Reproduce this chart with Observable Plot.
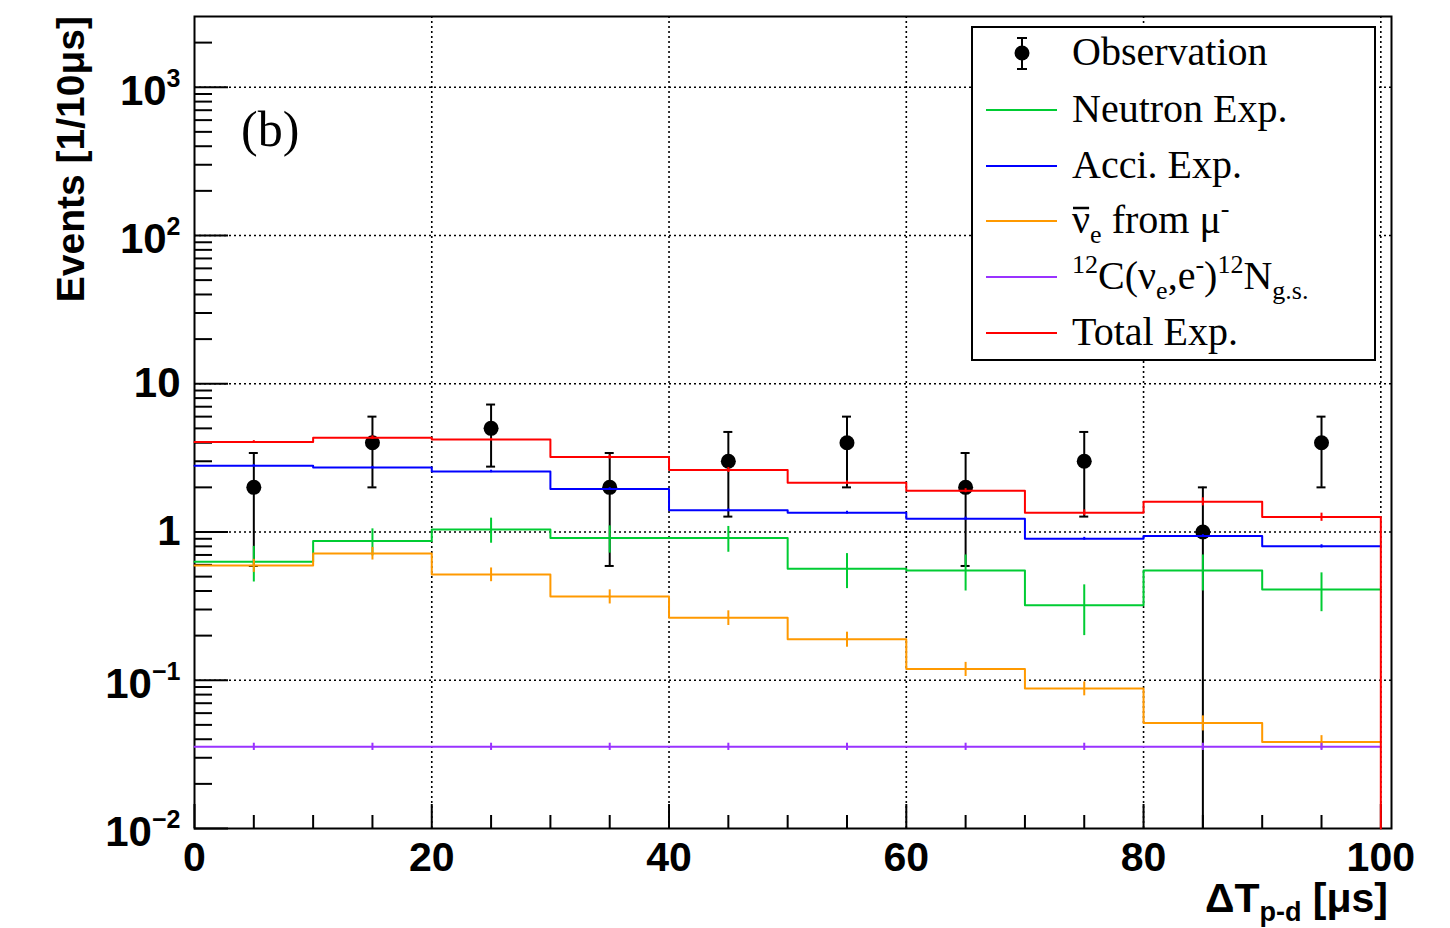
<!DOCTYPE html>
<html>
<head>
<meta charset="utf-8">
<script src="https://cdn.jsdelivr.net/npm/d3@7"></script>
<script src="https://cdn.jsdelivr.net/npm/@observablehq/plot@0.6"></script>
<style>html,body{margin:0;padding:0;background:#fff;}</style>
</head>
<body>
<div id="chart"></div>
<script>
// ---------- data ----------
const binEdges   = [0, 10, 20, 30, 40, 50, 60, 70, 80, 90, 100];
const binCenters = [5, 15, 25, 35, 45, 55, 65, 75, 85, 95];

const observed    = [2, 4, 5, 2, 3, 4, 2, 3, 1, 4];
const observedErr = [1.41, 2, 2.24, 1.41, 1.73, 2, 1.41, 1.73, 1, 2];

const neutronExp    = [0.63, 0.87, 1.04, 0.91, 0.91, 0.565, 0.55, 0.32, 0.55, 0.41];
const neutronExpErr = [0.17, 0.18, 0.20, 0.19, 0.18, 0.15, 0.15, 0.12, 0.15, 0.12];

const acciExp    = [2.80, 2.72, 2.56, 1.95, 1.40, 1.35, 1.23, 0.90, 0.94, 0.80];
const acciExpErr = [0.05, 0.05, 0.05, 0.04, 0.03, 0.03, 0.03, 0.02, 0.02, 0.02];

const nuMuExp    = [0.594, 0.717, 0.517, 0.367, 0.264, 0.189, 0.119, 0.088, 0.0515, 0.0383];
const nuMuExpErr = [0.06, 0.07, 0.055, 0.04, 0.03, 0.022, 0.013, 0.0095, 0.006, 0.004];

const c12Exp    = [0.0356, 0.0356, 0.0356, 0.0356, 0.0356, 0.0356, 0.0356, 0.0356, 0.0356, 0.0356];
const c12ExpErr = [0.002, 0.002, 0.002, 0.002, 0.002, 0.002, 0.002, 0.002, 0.002, 0.002];

const totalExp    = [4.05, 4.33, 4.20, 3.20, 2.62, 2.15, 1.90, 1.35, 1.60, 1.26];
const totalExpErr = [0.08, 0.12, 0.08, 0.10, 0.10, 0.06, 0.06, 0.06, 0.10, 0.08];

const seriesNames  = ["Observation", "Neutron Exp.", "Acci. Exp.", "ν̄e from μ-", "12C(νe,e-)12Ng.s.", "Total Exp."];
const seriesColors = ["#000000", "#00cc33", "#0000ff", "#ff9900", "#9933ff", "#ff0000"];

const xTicksMajor = [0, 20, 40, 60, 80, 100];
const xTicksMinor = [5, 10, 15, 25, 30, 35, 45, 50, 55, 65, 70, 75, 85, 90, 95];
const xGrid       = [20, 40, 60, 80, 100];
const yTickValues = [0.01, 0.1, 1, 10, 100, 1000];
const yTickLabels = ["10^−2", "10^−1", "1", "10", "10^2", "10^3"];
const yGrid       = [0.1, 1, 10, 100, 1000];
const yTicksMinor = [];
for (const dec of [0.01, 0.1, 1, 10, 100, 1000])
  for (const m of [2, 3, 4, 5, 6, 7, 8, 9])
    if (m * dec < 3000) yTicksMinor.push(m * dec);

// ---------- layout ----------
const W = 1450, H = 928, mL = 194, mR = 59, mT = 16, mB = 100;
const xDomain = [0, 100.9], yDomain = [0.01, 3000];
const pxPerX = (W - mL - mR) / (xDomain[1] - xDomain[0]);
const pxPerDec = (H - mT - mB) / Math.log10(yDomain[1] / yDomain[0]);
const xLen = px => px / pxPerX;
const yFac = px => Math.pow(10, px / pxPerDec);

const SANS = "'Liberation Sans', Arial, Helvetica, sans-serif";
const SERIF = "'Liberation Serif', 'Times New Roman', serif";

function stepRows(vals, drop) {
  const rows = binEdges.map((e, i) => ({x: e, y: vals[Math.min(i, vals.length - 1)]}));
  if (drop) rows.push({x: binEdges[binEdges.length - 1], y: yDomain[0]});
  return rows;
}
function crossRows(vals, errs) {
  return binCenters.map((c, i) => ({x: c, lo: vals[i] - errs[i], hi: vals[i] + errs[i]}));
}

const obsRows = binCenters.map((c, i) => ({
  x: c, y: observed[i],
  lo: Math.max(observed[i] - observedErr[i], yDomain[0]),
  hi: observed[i] + observedErr[i],
  hasLo: observed[i] - observedErr[i] > 0
}));
const capHalf = xLen(4.5);

const hists = [
  {vals: neutronExp, errs: neutronExpErr, color: seriesColors[1]},
  {vals: acciExp,    errs: acciExpErr,    color: seriesColors[2]},
  {vals: nuMuExp,    errs: nuMuExpErr,    color: seriesColors[3]},
  {vals: c12Exp,     errs: c12ExpErr,     color: seriesColors[4]},
  {vals: totalExp,   errs: totalExpErr,   color: seriesColors[5], drop: true}
];

const yLabRows = yTickValues.map((v, i) => ({v, label: yTickLabels[i]}));

const marks = [
  // grid
  Plot.ruleX(xGrid, {x: d => d, stroke: "black", strokeWidth: 1.6, strokeDasharray: "2,3"}),
  Plot.ruleY(yGrid, {y: d => d, stroke: "black", strokeWidth: 1.6, strokeDasharray: "2,3"}),
  // observation
  Plot.ruleX(obsRows, {x: "x", y1: "lo", y2: "hi", stroke: "black", strokeWidth: 2}),
  Plot.ruleY(obsRows, {y: "hi", x1: d => d.x - capHalf, x2: d => d.x + capHalf, stroke: "black", strokeWidth: 2}),
  Plot.ruleY(obsRows.filter(d => d.hasLo), {y: "lo", x1: d => d.x - capHalf, x2: d => d.x + capHalf, stroke: "black", strokeWidth: 2}),
  Plot.dot(obsRows, {x: "x", y: "y", r: 7.5, fill: "black", stroke: "none"}),
  Plot.frame({stroke: "black", strokeWidth: 2}),
  // ticks (inside the frame, ROOT style)
  Plot.ruleX(xTicksMajor, {x: d => d, y1: yDomain[0], y2: yDomain[0] * yFac(24), stroke: "black", strokeWidth: 2}),
  Plot.ruleX(xTicksMinor, {x: d => d, y1: yDomain[0], y2: yDomain[0] * yFac(13), stroke: "black", strokeWidth: 2}),
  Plot.ruleY(yTickValues, {y: d => d, x1: 0, x2: xLen(34), stroke: "black", strokeWidth: 2}),
  Plot.ruleY(yTicksMinor, {y: d => d, x1: 0, x2: xLen(18), stroke: "black", strokeWidth: 2})
];
for (const h of hists) {
  marks.push(Plot.line(stepRows(h.vals, h.drop), {x: "x", y: "y", curve: "step-after", stroke: h.color, strokeWidth: 2}));
  marks.push(Plot.ruleX(crossRows(h.vals, h.errs), {x: "x", y1: "lo", y2: "hi", stroke: h.color, strokeWidth: 2}));
}
marks.push(
  // tick labels
  Plot.text(xTicksMajor, {x: d => d, y: () => yDomain[0], dy: 29, text: d => String(d), fontSize: 41, fontWeight: "bold", fontFamily: SANS, fill: "black", lineAnchor: "middle", textAnchor: "middle"}),
  Plot.text(yLabRows, {x: () => 0, y: "v", dx: -14, text: "label", fontSize: 42, fontWeight: "bold", fontFamily: SANS, fill: "black", lineAnchor: "middle", textAnchor: "end"})
);

const svg = Plot.plot({
  width: W, height: H,
  marginLeft: mL, marginRight: mR, marginTop: mT, marginBottom: mB,
  x: {type: "linear", domain: xDomain, axis: null},
  y: {type: "log", domain: yDomain, axis: null},
  style: {background: "white", overflow: "visible"},
  marks
});
document.getElementById("chart").appendChild(svg);

const S = d3.select(svg);

// exponents on y tick labels
S.selectAll("text").each(function () {
  const t = this.textContent;
  const parts = t.split("^");
  if (parts.length === 2) {
    this.textContent = "";
    const s = d3.select(this);
    s.append("tspan").attr("dy", 4).text(parts[0]);
    s.append("tspan").attr("dy", -18).attr("font-size", 25).text(parts[1]);
  }
});

// rich text helper
function rich(sel, parts, subSize, offsets) {
  let cur = 0;
  for (const [txt, kind] of parts) {
    const target = kind === "sub" ? offsets.sub : kind === "sup" ? offsets.sup : 0;
    const ts = sel.append("tspan").attr("dy", target - cur).text(txt);
    if (kind) ts.attr("font-size", subSize);
    cur = target;
  }
}

// axis titles
S.append("text")
  .attr("transform", "translate(84,16) rotate(-90)")
  .attr("text-anchor", "end")
  .attr("font-family", SANS).attr("font-weight", "bold").attr("font-size", 39)
  .attr("fill", "black")
  .text("Events [1/10μs]");

const xt = S.append("text")
  .attr("x", 1388).attr("y", 912)
  .attr("text-anchor", "end")
  .attr("font-family", SANS).attr("font-weight", "bold").attr("font-size", 41)
  .attr("fill", "black");
rich(xt, [["ΔT", null], ["p-d", "sub"], [" [μs]", null]], 27, {sub: 9, sup: -16});

// panel tag
S.append("text").attr("x", 241).attr("y", 146)
  .attr("text-anchor", "start")
  .attr("font-family", SERIF).attr("font-size", 50).attr("fill", "black")
  .text("(b)");

// legend
const L = S.append("g").attr("text-anchor", "start");
L.append("rect").attr("x", 972).attr("y", 27).attr("width", 403).attr("height", 333)
  .attr("fill", "white").attr("stroke", "black").attr("stroke-width", 2);
const rowY = [53, 110, 166, 221, 277, 333];
const legendParts = [
  [["Observation", null]],
  [["Neutron Exp.", null]],
  [["Acci. Exp.", null]],
  [["ν", null], ["e", "sub"], [" from μ", null], ["-", "sup"]],
  [["12", "sup"], ["C(ν", null], ["e", "sub"], [",e", null], ["-", "sup"], [")", null], ["12", "sup"], ["N", null], ["g.s.", "sub"]],
  [["Total Exp.", null]]
];
seriesNames.forEach((name, i) => {
  const y = rowY[i];
  if (i === 0) {
    L.append("line").attr("x1", 1022).attr("x2", 1022).attr("y1", 38).attr("y2", 69).attr("stroke", "black").attr("stroke-width", 2);
    L.append("line").attr("x1", 1017).attr("x2", 1027).attr("y1", 38).attr("y2", 38).attr("stroke", "black").attr("stroke-width", 2);
    L.append("line").attr("x1", 1017).attr("x2", 1027).attr("y1", 69).attr("y2", 69).attr("stroke", "black").attr("stroke-width", 2);
    L.append("circle").attr("cx", 1022).attr("cy", y).attr("r", 7.5).attr("fill", "black");
  } else {
    L.append("line").attr("x1", 986).attr("x2", 1057).attr("y1", y).attr("y2", y)
      .attr("stroke", seriesColors[i]).attr("stroke-width", 2);
  }
  const t = L.append("text").attr("x", 1072).attr("y", y + 12)
    .attr("text-anchor", "start")
    .attr("font-family", SERIF).attr("font-size", 40).attr("fill", "black")
    .attr("aria-label", name);
  rich(t, legendParts[i], 26, {sub: 10, sup: -16});
  if (i === 3) {
    const ext = t.node().getExtentOfChar(0);
    L.append("line").attr("x1", ext.x + 1).attr("x2", ext.x + ext.width - 1)
      .attr("y1", y - 13).attr("y2", y - 13).attr("stroke", "black").attr("stroke-width", 2.5);
  }
});
</script>
</body>
</html>
